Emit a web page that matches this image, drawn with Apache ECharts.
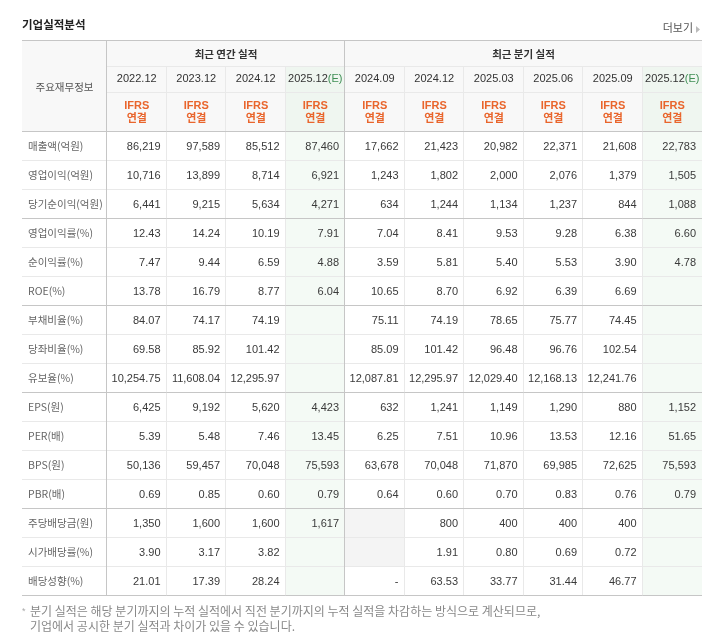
<!DOCTYPE html>
<html><head><meta charset="utf-8">
<script src="https://cdn.jsdelivr.net/npm/echarts@6/dist/echarts.min.js"></script>
<style>html,body{margin:0;padding:0;background:#fff}#c{width:720px;height:640px}</style>
</head><body><div id="c"></div>
<script>
// ---------- data ----------
const periods = ['2022.12','2023.12','2024.12','2025.12','2024.09','2024.12','2025.03','2025.06','2025.09','2025.12'];
const estimate = [false,false,false,true,false,false,false,false,false,true];
const groupTitles = ['최근 연간 실적','최근 분기 실적'];
const groupStart = [0,4];
const groupEnd = [3,9];
const rowLabels = ['매출액(억원)','영업이익(억원)','당기순이익(억원)','영업이익률(%)','순이익률(%)','ROE(%)','부채비율(%)','당좌비율(%)','유보율(%)','EPS(원)','PER(배)','BPS(원)','PBR(배)','주당배당금(원)','시가배당률(%)','배당성향(%)'];
const decimals = [0,0,0,2,2,2,2,2,2,0,2,0,2,0,2,2];
const groupEndRows = [2,5,8,12,15];

const revenue   = [86219,97589,85512,87460,17662,21423,20982,22371,21608,22783];
const opProfit  = [10716,13899,8714,6921,1243,1802,2000,2076,1379,1505];
const netProfit = [6441,9215,5634,4271,634,1244,1134,1237,844,1088];
const opMargin  = [12.43,14.24,10.19,7.91,7.04,8.41,9.53,9.28,6.38,6.60];
const netMargin = [7.47,9.44,6.59,4.88,3.59,5.81,5.40,5.53,3.90,4.78];
const roe       = [13.78,16.79,8.77,6.04,10.65,8.70,6.92,6.39,6.69,null];
const debtRatio = [84.07,74.17,74.19,null,75.11,74.19,78.65,75.77,74.45,null];
const quickRatio= [69.58,85.92,101.42,null,85.09,101.42,96.48,96.76,102.54,null];
const reserveRatio = [10254.75,11608.04,12295.97,null,12087.81,12295.97,12029.40,12168.13,12241.76,null];
const eps       = [6425,9192,5620,4423,632,1241,1149,1290,880,1152];
const per       = [5.39,5.48,7.46,13.45,6.25,7.51,10.96,13.53,12.16,51.65];
const bps       = [50136,59457,70048,75593,63678,70048,71870,69985,72625,75593];
const pbr       = [0.69,0.85,0.60,0.79,0.64,0.60,0.70,0.83,0.76,0.79];
const dps       = [1350,1600,1600,1617,null,800,400,400,400,null];
const divYield  = [3.90,3.17,3.82,null,null,1.91,0.80,0.69,0.72,null];
const payout    = [21.01,17.39,28.24,null,'-',63.53,33.77,31.44,46.77,null];
const naCells = [[4,13],[4,14]];

const rows = [revenue,opProfit,netProfit,opMargin,netMargin,roe,debtRatio,quickRatio,reserveRatio,eps,per,bps,pbr,dps,divYield,payout];

// ---------- layout / style ----------
const LABEL_W = 85;
const H_GROUP = 26, H_DATE = 26, H_IFRS = 40;
const C_DARK = '#c6c6c6', C_LIGHT = '#e9e9e9', C_HEAD = '#f8f8f8';
const C_EST_HEAD = '#eff6f0', C_EST = '#f4faf5', C_NA = '#f4f4f4';
const FONT = "'Liberation Sans','Noto Sans CJK KR',sans-serif";
const KFONT = "'Noto Sans CJK KR','Liberation Sans',sans-serif";

function fmt(v, d){
  if (v === null || v === undefined) return '';
  if (typeof v === 'string') return v;
  return v.toLocaleString('en-US',{minimumFractionDigits:d,maximumFractionDigits:d});
}
const naSet = new Set(naCells.map(a => a[0]+','+a[1]));
const cellData = [];
rows.forEach((arr, r) => arr.forEach((v, c) => cellData.push([c, r, fmt(v, decimals[r])])));
const headData = periods.map((p, i) => [i, p]);
const groupData = groupTitles.map((t, i) => [groupStart[i], groupEnd[i], t]);

const px = v => Math.round(v) + 0.5;
function hline(x1, x2, y, color, z2){ return {type:'line', z2:z2||10, shape:{x1:x1,y1:px(y),x2:x2,y2:px(y)}, style:{stroke:color,lineWidth:1}}; }
function vline(x, y1, y2, color, z2){ return {type:'line', z2:z2||10, shape:{x1:px(x),y1:y1,x2:px(x),y2:y2}, style:{stroke:color,lineWidth:1}}; }

function renderCell(params, api){
  const c = api.value(0), r = api.value(1);
  const text = cellData[params.dataIndex][2];
  const p = api.coord([c, r]);
  const s = api.size([1, 1]);
  const cs = params.coordSys;
  const x0 = p[0] - s[0]/2, y0 = p[1] - s[1]/2, w = s[0], h = s[1];
  const ch = [];
  const na = naSet.has(c + ',' + r);
  ch.push({type:'rect', z2:0, shape:{x:x0, y:y0, width:w, height:h}, style:{fill: na ? C_NA : (estimate[c] ? C_EST : '#fff')}});
  const dark = groupEndRows.indexOf(r) >= 0;
  ch.push(hline(c === 0 ? cs.x - LABEL_W : x0, x0 + w, y0 + h - 1, dark ? C_DARK : C_LIGHT, dark ? 12 : 10));
  if (c < periods.length - 1) {
    const vd = groupEnd.indexOf(c) >= 0;
    ch.push(vline(x0 + w - 1, y0, y0 + h, vd ? C_DARK : C_LIGHT, vd ? 11 : 9));
  }
  if (c === 0) ch.push(vline(x0 - 1, y0, y0 + h, C_DARK, 11));
  ch.push({type:'text', z2:20, style:{text:text, x:x0 + w - 6, y:p[1], align:'right', verticalAlign:'middle', fill:'#3a3a3a', font:'11px ' + FONT}});
  return {type:'group', children:ch};
}

function renderHead(params, api){
  const c = api.value(0);
  const text = headData[params.dataIndex][1];
  const p = api.coord([c, 0]);
  const s = api.size([1, 1]);
  const cs = params.coordSys;
  const x0 = p[0] - s[0]/2, w = s[0];
  const yDate = cs.y - H_IFRS - H_DATE, yIfrs = cs.y - H_IFRS, yTop = yDate - H_GROUP;
  const ch = [];
  const bg = estimate[c] ? C_EST_HEAD : C_HEAD;
  ch.push({type:'rect', z2:0, shape:{x:x0, y:yDate, width:w, height:H_DATE + H_IFRS}, style:{fill:bg}});
  ch.push(hline(x0, x0 + w, yDate, C_LIGHT));
  ch.push(hline(x0, x0 + w, yIfrs, C_LIGHT));
  ch.push(hline(x0, x0 + w, cs.y - 1, C_DARK, 12));
  if (c < periods.length - 1) {
    const vd = groupEnd.indexOf(c) >= 0;
    ch.push(vline(x0 + w - 1, vd ? yTop : yDate, cs.y, vd ? C_DARK : C_LIGHT, vd ? 11 : 9));
  }
  const dateTxt = estimate[c] ? '{d|' + text + '}{e|(E)}' : '{d|' + text + '}';
  ch.push({type:'text', z2:20, style:{text:dateTxt, x:p[0], y:yDate + H_DATE/2, align:'center', verticalAlign:'middle',
    rich:{d:{fill:'#333', font:'11px ' + FONT}, e:{fill:'#3f8f55', font:'11px ' + FONT}}}});
  ch.push({type:'text', z2:20, style:{text:'IFRS\n연결', x:p[0], y:yIfrs + H_IFRS/2, align:'center', verticalAlign:'middle',
    fill:'#e9652c', font:'bold 11px ' + FONT, lineHeight:13}});
  if (c === 0) {
    // label-column header (corner)
    const lx = cs.x - LABEL_W;
    ch.push({type:'rect', z2:0, shape:{x:lx, y:yTop, width:LABEL_W, height:cs.y - yTop}, style:{fill:C_HEAD}});
    ch.push(hline(lx, x0, cs.y - 1, C_DARK, 12));
    ch.push(hline(lx, x0, yTop, C_DARK, 12));
    ch.push(vline(x0 - 1, yTop, cs.y, C_DARK, 11));
    ch.push({type:'text', z2:20, style:{text:'주요재무정보', x:lx + LABEL_W/2, y:(yTop + cs.y)/2 + 1, align:'center', verticalAlign:'middle', fill:'#555', font:'10.5px ' + KFONT}});
  }
  return {type:'group', children:ch};
}

function renderGroup(params, api){
  const a = api.value(0), b = api.value(1);
  const text = groupData[params.dataIndex][2];
  const pa = api.coord([a, 0]), pb = api.coord([b, 0]);
  const s = api.size([1, 1]);
  const cs = params.coordSys;
  const x0 = pa[0] - s[0]/2, x1 = pb[0] + s[0]/2;
  const yTop = cs.y - H_IFRS - H_DATE - H_GROUP;
  return {type:'group', children:[
    {type:'rect', z2:0, shape:{x:x0, y:yTop, width:x1 - x0, height:H_GROUP}, style:{fill:C_HEAD}},
    hline(x0, x1, yTop, C_DARK, 12),
    {type:'text', z2:20, style:{text:text, x:(x0 + x1)/2, y:yTop + H_GROUP/2 + 1, align:'center', verticalAlign:'middle', fill:'#333', font:'bold 10.5px ' + KFONT}}
  ]};
}

const chart = echarts.init(document.getElementById('c'), null, {renderer:'canvas'});
chart.setOption({
  animation:false,
  backgroundColor:'#fff',
  textStyle:{fontFamily:FONT},
  grid:{left:107, right:18, top:132, bottom:44, containLabel:false},
  xAxis:{type:'category', data:periods, show:false},
  yAxis:{type:'category', data:rowLabels, inverse:true,
    axisLine:{show:false}, axisTick:{show:false}, splitLine:{show:false},
    axisLabel:{align:'left', margin:79, color:'#666', fontSize:10.5, fontFamily:KFONT}},
  series:[
    {type:'custom', renderItem:renderCell, data:cellData, encode:{x:0, y:1}, z:2, clip:false, silent:true},
    {type:'custom', renderItem:renderHead, data:headData, encode:{x:0}, z:3, clip:false, silent:true},
    {type:'custom', renderItem:renderGroup, data:groupData, encode:{x:[0,1]}, z:3, clip:false, silent:true}
  ],
  graphic:[
    {type:'text', left:22, top:19, style:{text:'기업실적분석', fill:'#222', font:'bold 11.5px ' + KFONT}},
    {type:'text', right:27, top:22, style:{text:'더보기', fill:'#555', font:'11px ' + KFONT}},
    {type:'polygon', right:20, top:26, shape:{points:[[0,0],[4,3.5],[0,7]]}, style:{fill:'#bbb'}},
    {type:'text', left:22, top:607, style:{text:'*', fill:'#aaa', font:'9px ' + FONT}},
    {type:'text', left:30, top:605, style:{text:'분기 실적은 해당 분기까지의 누적 실적에서 직전 분기까지의 누적 실적을 차감하는 방식으로 계산되므로,', fill:'#888', font:'12px ' + KFONT}},
    {type:'text', left:30, top:620, style:{text:'기업에서 공시한 분기 실적과 차이가 있을 수 있습니다.', fill:'#888', font:'12px ' + KFONT}}
  ]
});
</script>
</body></html>
